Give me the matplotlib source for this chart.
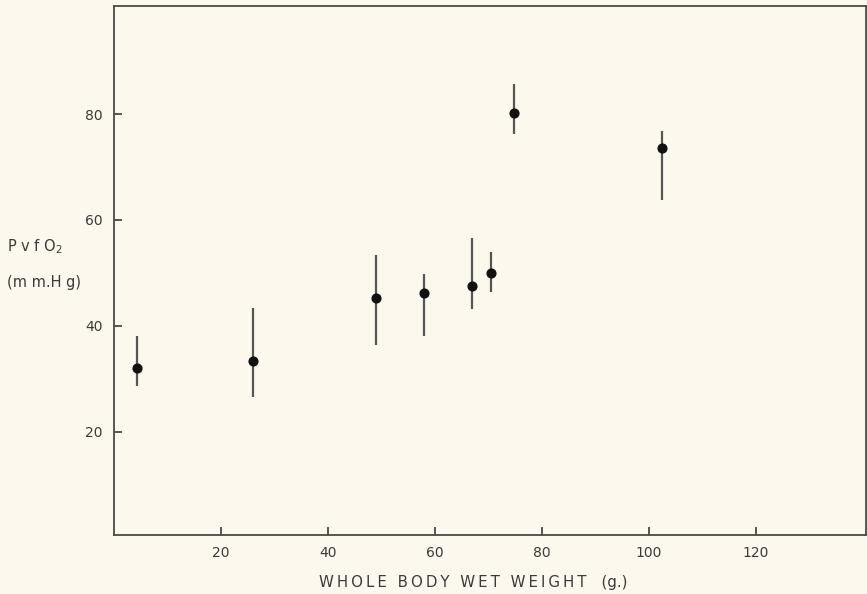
import matplotlib
matplotlib.use("Agg")
import matplotlib.pyplot as plt

# body weight (g) and venous PO2 (mm Hg)
weight = [4.3, 26.0, 49.0, 58.0, 67.0, 70.5, 74.7, 102.4]
po2 = [32.1, 33.4, 45.2, 46.2, 47.5, 50.0, 80.1, 73.5]
po2_high = [38.1, 43.3, 53.3, 49.8, 56.5, 53.9, 85.7, 76.8]
po2_low = [28.7, 26.5, 36.4, 38.0, 43.2, 46.4, 76.2, 63.8]

x_ticks = [20, 40, 60, 80, 100, 120]
y_ticks = [20, 40, 60, 80]

bg = "#fdf8ee"
ink = "#3a3a3a"

fig = plt.figure(figsize=(8.67, 5.94), dpi=100, facecolor=bg)
ax = fig.add_axes([114 / 867, 59 / 594, 752 / 867, 529 / 594], facecolor=bg)

yerr = [
    [p - lo for p, lo in zip(po2, po2_low)],
    [hi - p for p, hi in zip(po2, po2_high)],
]
ax.errorbar(
    weight, po2, yerr=yerr,
    fmt="o", color="#111111", markersize=6.3,
    ecolor="#555555", elinewidth=1.6, capsize=0,
)

ax.set_xlim(0, 140.6)
ax.set_ylim(0.5, 100.4)
ax.set_xticks(x_ticks)
ax.set_yticks(y_ticks)
ax.tick_params(direction="in", length=6, width=1.2, color=ink,
               labelcolor=ink, labelsize=10, pad=8)
for s in ax.spines.values():
    s.set_color("#4a4a4a")
    s.set_linewidth(1.3)

fig.text(473 / 867, 1 - 583 / 594,
         "\u2009".join("WHOLE BODY WET WEIGHT") + "\u2002\u2002(g.)",
         ha="center", va="center", fontsize=10.8, color=ink)
fig.text(7 / 867, 1 - 247 / 594, "P v f O$_2$", ha="left", va="center",
         fontsize=10.5, color=ink)
fig.text(7 / 867, 1 - 283 / 594, "(m m.H g)", ha="left", va="center",
         fontsize=10.5, color=ink)

fig.savefig("out.png", dpi=100, facecolor=bg)
